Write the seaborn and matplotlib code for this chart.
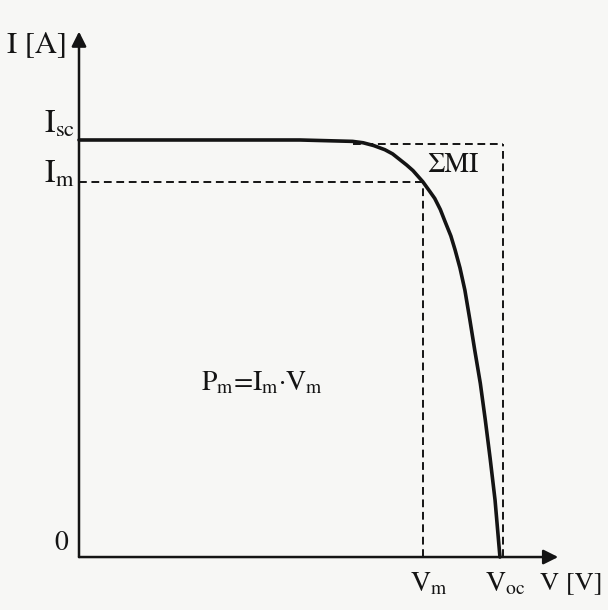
import matplotlib
matplotlib.use("Agg")
import matplotlib.pyplot as plt
import pandas as pd
import seaborn as sns

# I-V characteristic of a solar cell (volts, amperes)
voltage = [0.0, 0.172, 0.315, 0.390, 0.405, 0.420, 0.436, 0.447, 0.457,
           0.467, 0.476, 0.490, 0.500, 0.507, 0.515, 0.522, 0.530, 0.536,
           0.543, 0.550, 0.557, 0.564, 0.572, 0.579, 0.586, 0.593, 0.600]
current = [3.00, 3.00, 3.00, 2.99, 2.98, 2.96, 2.93, 2.90, 2.86,
           2.82, 2.78, 2.70, 2.63, 2.58, 2.50, 2.41, 2.31, 2.21,
           2.08, 1.92, 1.71, 1.49, 1.25, 0.99, 0.71, 0.41, 0.0]

# characteristic points
I_sc = 3.00   # short-circuit current
V_oc = 0.60   # open-circuit voltage
I_m = 2.70    # current at maximum power point
V_m = 0.49    # voltage at maximum power point
knee_start = 0.39

sns.set_theme(style="white")
plt.rcParams["font.family"] = ["STIXGeneral", "DejaVu Serif"]
plt.rcParams["mathtext.fontset"] = "stix"

ink = "#141414"
paper = "#f7f7f5"

fig = plt.figure(figsize=(6.08, 6.10), dpi=100, facecolor=paper)
ax = fig.add_axes([0, 0, 1, 1])
ax.set_facecolor(paper)
ax.set_xlim(-0.1126, 0.754)
ax.set_ylim(-0.381, 4.007)
ax.set_axis_off()

df = pd.DataFrame({"V": voltage, "I": current})
sns.lineplot(data=df, x="V", y="I", ax=ax, color=ink, lw=2.6,
             sort=False, estimator=None)

dash = dict(color=ink, lw=1.4, linestyle=(0, (4, 2.4)))
# maximum power rectangle
ax.plot([0, V_m], [I_m, I_m], **dash)
ax.plot([V_m, V_m], [0, I_m], **dash)
# ideal rectangle I_sc x V_oc
ax.plot([knee_start, V_oc + 0.005], [I_sc - 0.03, I_sc - 0.03], **dash)
ax.plot([V_oc + 0.005, V_oc + 0.005], [0, I_sc - 0.03], **dash)

# axes with arrows
arrow = dict(arrowstyle="-|>", lw=1.8, color=ink, mutation_scale=22,
             shrinkA=0, shrinkB=0)
ax.annotate("", xy=(0, 3.78), xytext=(0, 0), arrowprops=arrow)
ax.annotate("", xy=(0.683, 0), xytext=(0, 0), arrowprops=arrow)

ax.text(-0.060, 3.683, "I [A]", ha="center", va="center", fontsize=22, color=ink)
ax.text(-0.006, I_sc + 0.05, r"I$_{\mathrm{sc}}$", ha="right", va="baseline",
        fontsize=23, color=ink)
ax.text(-0.006, I_m - 0.01, r"I$_{\mathrm{m}}$", ha="right", va="baseline",
        fontsize=23, color=ink)
ax.text(-0.026, 0.10, "0", ha="center", va="center", fontsize=20, color=ink)

ax.text(V_m + 0.009, -0.10, r"V$_{\mathrm{m}}$", ha="center", va="top",
        fontsize=20, color=ink)
ax.text(V_oc + 0.007, -0.10, r"V$_{\mathrm{oc}}$", ha="center", va="top",
        fontsize=20, color=ink)
ax.text(0.701, -0.10, "V [V]", ha="center", va="top", fontsize=19, color=ink)

ax.text(0.533, 2.82, "ΣΜΙ", ha="center", va="center", fontsize=20, color=ink)
ax.text(0.261, 1.25, r"P$_{\mathrm{m}}$=I$_{\mathrm{m}}$·V$_{\mathrm{m}}$",
        ha="center", va="center", fontsize=20, color=ink)

fig.savefig("out.png", dpi=100, facecolor=paper)
